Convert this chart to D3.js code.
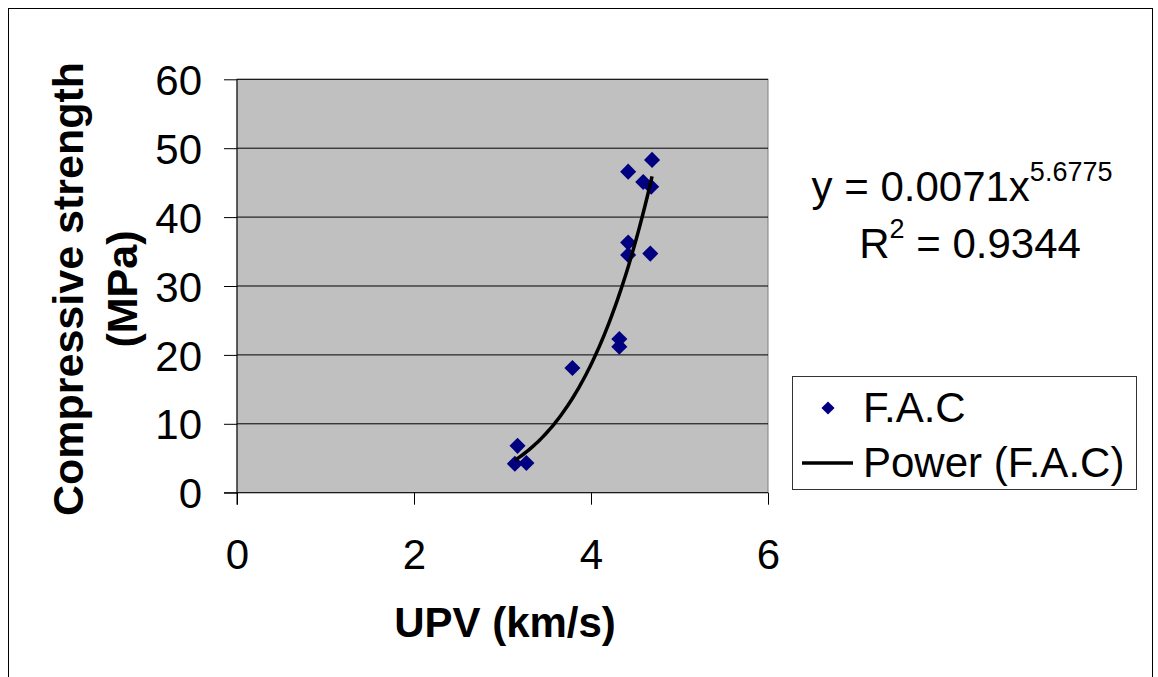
<!DOCTYPE html>
<html>
<head>
<meta charset="utf-8">
<script src="https://cdn.jsdelivr.net/npm/d3@7"></script>
<style>
  body { margin: 0; background: #fff; }
  svg text { font-family: Arial, "Liberation Sans", sans-serif; fill: #000; }
</style>
</head>
<body>
<svg id="chart" width="1158" height="677"></svg>
<script>
// measured points (UPV km/s, compressive strength MPa)
const upv =      [4.69, 4.42, 4.59, 4.68, 4.42, 4.42, 4.67, 4.32, 4.32, 3.79, 3.17, 3.14, 3.27];
const strength = [48.3, 46.6, 45.1, 44.4, 36.3, 34.5, 34.7, 22.3, 21.2, 18.1, 6.8, 4.2, 4.3];
const xTicks = [0, 2, 4, 6];
const yTicks = [0, 10, 20, 30, 40, 50, 60];
// power trendline shown on the chart: y = a * x^b
const trendA = 0.0071, trendB = 5.6775;
const rSquared = "0.9344";

const svg = d3.select("#chart");
const plot = { left: 237, right: 768, top: 79.3, bottom: 492.7 };

const x = d3.scaleLinear().domain([0, 6]).range([plot.left, plot.right]);
const y = d3.scaleLinear().domain([0, 60]).range([plot.bottom, plot.top]);

// outer chart border
svg.append("rect")
  .attr("x", 8.5).attr("y", 8.5)
  .attr("width", 1144).attr("height", 700)
  .attr("fill", "none").attr("stroke", "#000").attr("stroke-width", 1);

// plot area
svg.append("rect")
  .attr("x", plot.left).attr("y", plot.top)
  .attr("width", plot.right - plot.left).attr("height", plot.bottom - plot.top)
  .attr("fill", "#c0c0c0").attr("stroke", "#808080");

// gridlines
svg.append("g")
  .selectAll("line")
  .data(yTicks.filter(d => d > 0))
  .enter()
  .append("line")
  .attr("x1", plot.left).attr("x2", plot.right)
  .attr("y1", d => y(d)).attr("y2", d => y(d))
  .attr("stroke", "#000").attr("stroke-width", 1);

// axes
const yAxis = d3.axisLeft(y).tickValues(yTicks).tickSize(13).tickPadding(22);
const xAxis = d3.axisBottom(x).tickValues(xTicks).tickFormat(d3.format("d"))
  .tickSize(12).tickPadding(34);

const gy = svg.append("g")
  .attr("transform", `translate(${plot.left},0)`)
  .call(yAxis);
const gx = svg.append("g")
  .attr("transform", `translate(0,${plot.bottom})`)
  .call(xAxis);

[gx, gy].forEach(g => {
  g.select(".domain").remove();
  g.selectAll(".tick line").attr("stroke", "#000");
  g.selectAll(".tick text").style("font-size", "42px").attr("fill", "#000");
});
gy.selectAll(".tick text").attr("dy", "0.36em");
gx.selectAll(".tick text").attr("dy", "0.72em");

// axis lines
svg.append("line")
  .attr("x1", plot.left - 13).attr("x2", plot.right)
  .attr("y1", plot.bottom).attr("y2", plot.bottom)
  .attr("stroke", "#000");
svg.append("line")
  .attr("x1", plot.left).attr("x2", plot.left)
  .attr("y1", plot.top).attr("y2", plot.bottom + 12)
  .attr("stroke", "#000");

// trendline
const xMin = d3.min(upv), xMax = d3.max(upv);
const trendPts = d3.range(0, 61).map(i => {
  const xv = xMin + (xMax - xMin) * i / 60;
  return [xv, trendA * Math.pow(xv, trendB)];
});
const line = d3.line().curve(d3.curveLinear).x(d => x(d[0])).y(d => y(d[1]));

// points
const diamond = d3.symbol().type(d3.symbolDiamond2).size(165);
svg.append("g")
  .selectAll("path")
  .data(upv.map((d, i) => [d, strength[i]]))
  .enter()
  .append("path")
  .attr("d", diamond)
  .attr("transform", d => `translate(${x(d[0])},${y(d[1])})`)
  .attr("fill", "#000080");

svg.append("path")
  .attr("d", line(trendPts))
  .attr("fill", "none")
  .attr("stroke", "#000")
  .attr("stroke-width", 3.5);

// axis titles
svg.append("text")
  .attr("x", 505).attr("y", 637)
  .attr("text-anchor", "middle")
  .style("font-size", "42px").style("font-weight", "bold")
  .text("UPV (km/s)");

const yTitle = svg.append("text")
  .attr("transform", "translate(83,289) rotate(-90)")
  .attr("text-anchor", "middle")
  .style("font-size", "43px").style("font-weight", "bold");
yTitle.append("tspan").attr("x", 0).attr("y", 0).text("Compressive strength");
yTitle.append("tspan").attr("x", 0).attr("y", 54).text("(MPa)");

// equation
const eq = svg.append("text")
  .attr("x", 962).attr("y", 201)
  .attr("text-anchor", "middle")
  .style("font-size", "42px");
eq.append("tspan").text("y = " + trendA + "x");
eq.append("tspan").attr("dy", -20).style("font-size", "27px").text(trendB);

const r2 = svg.append("text")
  .attr("x", 970).attr("y", 258)
  .attr("text-anchor", "middle")
  .style("font-size", "42px");
r2.append("tspan").text("R");
r2.append("tspan").attr("dy", -20).style("font-size", "27px").text("2");
r2.append("tspan").attr("dy", 20).text(" = " + rSquared);

// legend
const legend = svg.append("g").attr("transform", "translate(792,376)");
legend.append("rect")
  .attr("x", 0.5).attr("y", 0.5).attr("width", 344).attr("height", 113)
  .attr("fill", "#fff").attr("stroke", "#333");
legend.append("path")
  .attr("d", d3.symbol().type(d3.symbolDiamond2).size(110))
  .attr("transform", "translate(36,32)")
  .attr("fill", "#000080");
legend.append("text").attr("x", 71).attr("y", 46).style("font-size", "42px").text("F.A.C");
legend.append("line")
  .attr("x1", 10).attr("x2", 61).attr("y1", 87).attr("y2", 87)
  .attr("stroke", "#000").attr("stroke-width", 3.5);
legend.append("text").attr("x", 71).attr("y", 101).style("font-size", "42px").text("Power (F.A.C)");
</script>
</body>
</html>
